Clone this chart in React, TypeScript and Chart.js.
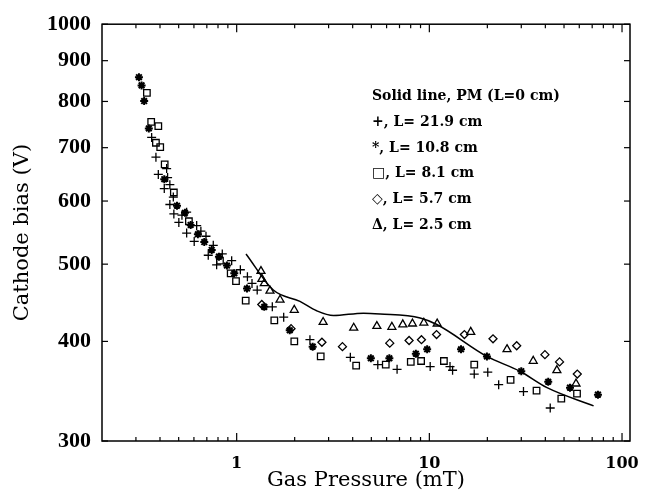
import React, { useEffect, useRef } from "react";
import { Chart, registerables } from "chart.js";
Chart.register(...registerables);

// L = 21.9 cm (+)
const plusPressure = [0.362, 0.381, 0.433, 0.392, 0.438, 0.45, 0.421, 0.469, 0.45, 0.472, 0.52, 0.55, 0.501, 0.62, 0.55, 0.602, 0.693, 0.652, 0.756, 0.712, 0.842, 0.787, 0.942, 1.045, 1.137, 1.201, 1.278, 1.531, 1.754, 2.4, 3.89, 5.4, 6.8, 10.1, 12.8, 13.2, 17.1, 20.1, 22.9, 30.8, 42.4];
const plusBias = [721, 681, 659, 648, 642, 629, 622, 607, 594, 578, 576, 581, 564, 559, 547, 534, 542, 550, 528, 513, 515, 499, 505, 492, 482, 473, 464, 442, 429, 402, 382, 374, 369, 372, 372, 368, 364, 366, 353, 346, 330];

// L = 10.8 cm (*)
const starPressure = [0.311, 0.321, 0.331, 0.35, 0.421, 0.49, 0.539, 0.577, 0.629, 0.679, 0.742, 0.809, 0.89, 0.972, 1.131, 1.391, 1.885, 2.48, 4.97, 6.2, 8.51, 9.74, 14.6, 19.9, 30.0, 41.4, 53.7, 75.0];
const starBias = [858, 838, 801, 740, 639, 592, 580, 560, 545, 533, 521, 511, 498, 487, 466, 442, 413, 394, 381, 381, 386, 391, 391, 383, 367, 356, 350, 343];

// L = 8.1 cm (square)
const squarePressure = [0.342, 0.36, 0.392, 0.381, 0.401, 0.423, 0.472, 0.565, 0.819, 0.931, 0.992, 1.114, 1.568, 1.991, 2.73, 4.17, 5.94, 8.01, 9.06, 11.9, 17.1, 26.4, 36.0, 48.4, 58.4];
const squareBias = [820, 754, 745, 710, 701, 667, 615, 566, 505, 487, 476, 450, 425, 400, 383, 373, 374, 377, 378, 378, 374, 358, 347, 339, 344];

// L = 5.7 cm (diamond)
const diamondPressure = [1.35, 1.915, 2.77, 3.54, 6.23, 7.85, 9.1, 10.9, 15.2, 21.4, 28.4, 39.8, 47.4, 58.6];
const diamondBias = [445, 415, 399, 394, 398, 401, 402, 408, 408, 403, 395, 385, 377, 364];

// L = 2.5 cm (triangle)
const trianglePressure = [1.337, 1.352, 1.391, 1.489, 1.679, 1.99, 2.81, 4.05, 5.34, 6.39, 7.28, 8.17, 9.36, 10.98, 16.4, 25.3, 34.6, 45.9, 57.7];
const triangleBias = [490, 479, 473, 463, 451, 438, 423, 416, 418, 417, 420, 421, 422, 421, 411, 391, 378, 368, 354];

// Solid line, PM (L = 0 cm)
const linePressure = [1.118, 1.549, 2.13, 2.6, 3.18, 4.55, 5.55, 8.96, 10.94, 19.9, 29.5, 40.8, 71.2];
const lineBias = [515, 464, 449, 437, 431, 434, 433, 428, 420, 383, 367, 350, 332];

const xMajorTicks = [1, 10, 100];
const xMinorTicks = [0.3, 0.4, 0.5, 0.6, 0.7, 0.8, 0.9, 2, 3, 4, 5, 6, 7, 8, 9, 20, 30, 40, 50, 60, 70, 80, 90];
const yTicks = [300, 400, 500, 600, 700, 800, 900, 1000];

const legendLines = [
  "Solid line, PM (L=0 cm)",
  "+, L= 21.9 cm",
  "*, L= 10.8 cm",
  "\u25A1, L= 8.1 cm",
  "\u25C7, L= 5.7 cm",
  "\u0394, L= 2.5 cm",
];

const pts = (xs: number[], ys: number[]) => xs.map((x, i) => ({ x, y: ys[i] }));

const framePlugin = {
  id: "frameTicks",
  afterDraw(chart: any) {
    const { ctx, chartArea, scales } = chart;
    const { left, right, top, bottom } = chartArea;
    const xs = scales.x;
    const ys = scales.y;
    ctx.save();
    ctx.strokeStyle = "#000";
    ctx.lineWidth = 1.5;
    ctx.strokeRect(left, top, right - left, bottom - top);
    ctx.lineWidth = 1.2;
    const seg = (x1: number, y1: number, x2: number, y2: number) => {
      ctx.beginPath();
      ctx.moveTo(x1, y1);
      ctx.lineTo(x2, y2);
      ctx.stroke();
    };
    xMinorTicks.forEach((v) => {
      const p = xs.getPixelForValue(v);
      seg(p, bottom, p, bottom - 4);
      seg(p, top, p, top + 4);
    });
    xMajorTicks.forEach((v) => {
      const p = xs.getPixelForValue(v);
      seg(p, bottom, p, bottom - 8);
      seg(p, top, p, top + 8);
    });
    yTicks.forEach((v) => {
      const p = ys.getPixelForValue(v);
      seg(left, p, left + 6, p);
      seg(right, p, right - 6, p);
    });
    // legend text block
    ctx.fillStyle = "#000";
    ctx.font = "bold 14px 'DejaVu Serif'";
    ctx.textAlign = "left";
    ctx.textBaseline = "alphabetic";
    legendLines.forEach((t, i) => {
      ctx.fillText(t, 372, 100 + i * 25.8);
    });
    ctx.restore();
  },
};

export default function App() {
  const ref = useRef<HTMLCanvasElement | null>(null);
  useEffect(() => {
    if (!ref.current) return;
    const common = { showLine: false, borderColor: "#000", backgroundColor: "rgba(0,0,0,0)" };
    const chart = new Chart(ref.current, {
      type: "scatter",
      data: {
        datasets: [
          {
            type: "line",
            label: "PM (L=0 cm)",
            data: pts(linePressure, lineBias),
            borderColor: "#000",
            borderWidth: 1.5,
            pointRadius: 0,
            cubicInterpolationMode: "monotone",
            fill: false,
          } as any,
          { ...common, label: "L= 21.9 cm", data: pts(plusPressure, plusBias), pointStyle: "cross", pointRadius: 4.5, borderWidth: 1.3 },
          { ...common, label: "L= 10.8 cm", data: pts(starPressure, starBias), pointStyle: "star", pointRadius: 4, borderWidth: 2 },
          { ...common, label: "L= 8.1 cm", data: pts(squarePressure, squareBias), pointStyle: "rect", pointRadius: 4.6, borderWidth: 1.3 },
          { ...common, label: "L= 5.7 cm", data: pts(diamondPressure, diamondBias), pointStyle: "rectRot", pointRadius: 4, borderWidth: 1.3 },
          { ...common, label: "L= 2.5 cm", data: pts(trianglePressure, triangleBias), pointStyle: "triangle", pointRadius: 4.6, borderWidth: 1.3 },
        ],
      },
      options: {
        responsive: false,
        animation: false,
        events: [],
        layout: { padding: { left: 0, top: 21, right: 25, bottom: 0 } },
        plugins: { legend: { display: false }, tooltip: { enabled: false } },
        scales: {
          x: {
            type: "logarithmic",
            min: 0.2,
            max: 110,
            grid: { display: false, drawTicks: false },
            border: { display: false },
            afterBuildTicks: (s: any) => {
              s.ticks = xMajorTicks.map((v) => ({ value: v }));
            },
            afterFit: (s: any) => {
              s.height = 55;
            },
            ticks: {
              color: "#000",
              padding: 13,
              font: { family: "DejaVu Serif", size: 16, weight: "bold" },
              callback: (v: any) => String(v),
              maxRotation: 0,
            },
            title: {
              display: true,
              text: "Gas Pressure (mT)",
              color: "#000",
              font: { family: "DejaVu Serif", size: 21 },
              padding: { top: 0, bottom: 2.5 },
            },
          },
          y: {
            type: "logarithmic",
            min: 300,
            max: 1000,
            grid: { display: false, drawTicks: false },
            border: { display: false },
            afterBuildTicks: (s: any) => {
              s.ticks = yTicks.map((v) => ({ value: v }));
            },
            afterFit: (s: any) => {
              s.width = 102;
            },
            ticks: {
              color: "#000",
              padding: 11,
              font: { family: "Liberation Serif", size: 22, weight: "bold" },
              callback: (v: any) => String(v),
            },
            title: {
              display: true,
              text: "Cathode bias (V)",
              color: "#000",
              font: { family: "DejaVu Serif", size: 21 },
              padding: { top: 9.5, bottom: 0 },
            },
          },
        },
      },
      plugins: [framePlugin],
    } as any);
    return () => chart.destroy();
  }, []);
  return (
    <div style={{ position: "absolute", left: 0, top: 0, width: 655, height: 496, background: "#fff" }}>
      <canvas ref={ref} width={655} height={496} style={{ width: 655, height: 496, display: "block" }} />
    </div>
  );
}
